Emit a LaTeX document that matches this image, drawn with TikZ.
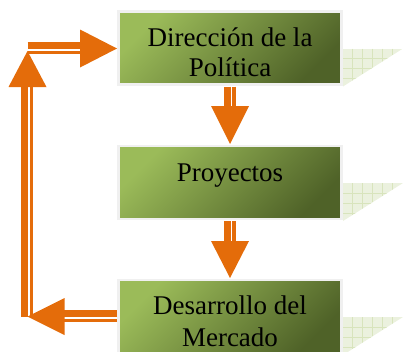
\documentclass[tikz,border=0pt]{standalone}
\usepackage{fontspec}
\setmainfont{Liberation Serif}
\newfontfamily\tnr{Liberation Serif}
\usetikzlibrary{calc}
\definecolor{orng}{HTML}{E46C0A}
\definecolor{gl}{HTML}{9BBB59}
\definecolor{gd}{HTML}{4F6228}
\definecolor{shd}{HTML}{EBF1DE}
\definecolor{shdl}{HTML}{D8E4BC}
\begin{document}
\begin{tikzpicture}[x=1pt,y=-1pt,
  box/.style={draw=black!6, line width=2.5pt, top color=gl, bottom color=gd, shading angle=45,
    minimum width=223pt, minimum height=73pt, inner sep=0pt, outer sep=0pt, anchor=north west},
  lbl/.style={font=\tnr\fontsize{27}{32}\selectfont, anchor=base, inner sep=0pt},
  shaftA/.style={draw=orng, line width=7pt},
  shaftB/.style={draw=orng, line width=3.5pt},
  head/.style={fill=orng},
  shdgrid/.style={draw=shdl, line width=0.6pt}]
\useasboundingbox (0,0) rectangle (403,351);

% boxes
\node[box] (b1) at (118.5,11.5) {};
\node[box] (b2) at (118.5,146) {};
\node[box] (b3) at (118.5,280) {};

% shadow triangles
\foreach \b in {b1,b2,b3}{
  \coordinate (\b sh) at ($(\b.north east)+(1.5,37)$);
  \begin{scope}
    \clip (\b sh) -- ++(60,0) -- ++(-60,38) -- cycle;
    \fill[shd] (\b sh) rectangle ++(60,38);
    \foreach \k in {1,...,6} \draw[shdgrid] ($(\b sh)+(\k*10-0.3,0)$) -- ++(0,38);
    \foreach \k in {1,2,3} \draw[shdgrid] ($(\b sh)+(0,\k*10-0.2)$) -- ++(60,0);
  \end{scope}
}

% texts
\node[lbl] (t1a) at ($(b1.north)+(0,35.2)$) {Dirección de la};
\node[lbl] (t1b) at ($(b1.north)+(0,65)$) {Política};
\node[lbl] (t2) at ($(b2.north)+(0,35.7)$) {Proyectos};
\node[lbl] (t3a) at ($(b3.north)+(0,34)$) {Desarrollo del};
\node[lbl] (t3b) at ($(b3.north)+(0,66)$) {Mercado};

% down arrow 1
\coordinate (d1s) at ($(b1.south)+(0,2)$);
\coordinate (d1t) at ($(b2.north)+(0,-2)$);
\draw[shaftA] ($(d1s)+(-3,0)$) -- ($(d1t)+(-3,-37)$);
\draw[shaftB] ($(d1s)+(4,0)$) -- ($(d1t)+(4,-37)$);
\fill[head] ($(d1t)+(-19,-38)$) -- (d1t) -- ($(d1t)+(19,-38)$) -- cycle;

% down arrow 2
\coordinate (d2s) at ($(b2.south)+(0,2)$);
\coordinate (d2t) at ($(b3.north)+(0,-2)$);
\draw[shaftA] ($(d2s)+(-3,0)$) -- ($(d2t)+(-3,-36)$);
\draw[shaftB] ($(d2s)+(4,0)$) -- ($(d2t)+(4,-36)$);
\fill[head] ($(d2t)+(-19,-37)$) -- (d2t) -- ($(d2t)+(19,-37)$) -- cycle;

% corners
\coordinate (cb) at ($(b3.west)+(-91,0)$);
\coordinate (ct) at ($(b1.west)+(-91,0.5)$);

% left arrow
\coordinate (l1s) at ($(b3.west)+(-1.5,0)$);
\draw[shaftA] ($(l1s)+(0,-3)$) -- ($(cb)+(36,-3)$);
\draw[shaftB] ($(l1s)+(0,4)$) -- ($(cb)+(36,4)$);
\fill[head] ($(cb)+(37,-18.5)$) -- (cb) -- ($(cb)+(37,18.5)$) -- cycle;

% up arrow
\coordinate (ut) at ($(ct)+(0,2.5)$);
\draw[shaftA] ($(cb)+(-3,0)$) -- ($(ut)+(-3,35)$);
\draw[shaftB] ($(cb)+(4,0)$) -- ($(ut)+(4,35)$);
\fill[head] ($(ut)+(-19,36)$) -- (ut) -- ($(ut)+(19,36)$) -- cycle;

% right arrow
\coordinate (rt) at ($(b1.west)+(-1.5,0.5)$);
\draw[shaftA] ($(ct)+(0,-3)$) -- ($(rt)+(-36,-3)$);
\draw[shaftB] ($(ct)+(0,4)$) -- ($(rt)+(-36,4)$);
\fill[head] ($(rt)+(-37,-19)$) -- (rt) -- ($(rt)+(-37,19)$) -- cycle;
\end{tikzpicture}
\end{document}
